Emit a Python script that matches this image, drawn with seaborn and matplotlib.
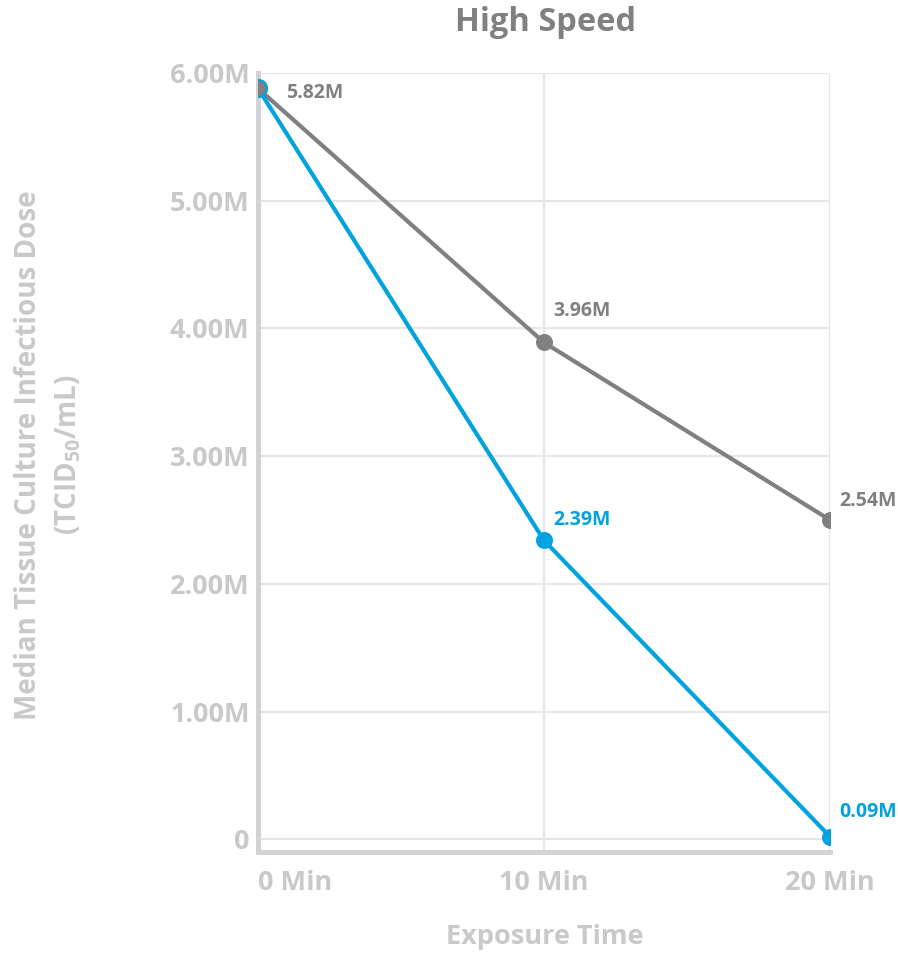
import matplotlib
matplotlib.use("Agg")
import matplotlib.pyplot as plt
import seaborn as sns
import pandas as pd

# ---- data ----
times = [0, 10, 20]
tick_labels = ["0 Min", "10 Min", "20 Min"]
gray_values = [5.88, 3.89, 2.50]
blue_values = [5.88, 2.34, 0.02]
gray_labels = ["5.82M", "3.96M", "2.54M"]
blue_labels = ["", "2.39M", "0.09M"]
y_ticks = [0, 1, 2, 3, 4, 5, 6]
y_tick_labels = ["0", "1.00M", "2.00M", "3.00M", "4.00M", "5.00M", "6.00M"]

GRAY = "#808082"
BLUE = "#00a3e0"
LIGHT = "#c9c9cb"
W = "bold"

sns.set_theme(style="white")
plt.rcParams["font.family"] = ["Open Sans", "DejaVu Sans"]
plt.rcParams["mathtext.default"] = "regular"

df = pd.DataFrame({
    "time": times * 2,
    "value": gray_values + blue_values,
    "series": ["gray"] * 3 + ["blue"] * 3,
})

fig = plt.figure(figsize=(8.98, 9.56), dpi=100)
ax = fig.add_axes([0.2873, 0.1088, 0.6370, 0.8148])

sns.lineplot(data=df, x="time", y="value", hue="series",
             palette={"gray": GRAY, "blue": BLUE}, hue_order=["gray", "blue"],
             linewidth=3, legend=False, ax=ax, zorder=3)
# markers
ax.scatter(times, blue_values, s=150, color=BLUE, zorder=4, linewidths=0)
ax.scatter(times[1:], gray_values[1:], s=150, color=GRAY, zorder=4, linewidths=0)
ax.scatter(times[:1], gray_values[:1], s=150, color=GRAY, edgecolors=BLUE,
           linewidths=1.6, zorder=5)

ax.set_xlabel("")
ax.set_ylabel("")
ax.set_xlim(0, 20)
ax.set_ylim(-0.1, 6.0)
ax.set_xticks(times)
ax.set_xticklabels(tick_labels)
ax.set_yticks(y_ticks)
ax.set_yticklabels(y_tick_labels)
for lbl in ax.get_xticklabels() + ax.get_yticklabels():
    lbl.set_fontweight(W)
    lbl.set_color(LIGHT)
    lbl.set_fontsize(19.5)
ax.get_xticklabels()[0].set_ha("left")
ax.tick_params(axis="both", length=0, pad=6)
ax.tick_params(axis="x", pad=13)

ax.grid(True, color="#e6e6e8", linewidth=1.6)
ax.set_axisbelow(True)
for s in ["top", "right"]:
    ax.spines[s].set_visible(False)
for s in ["left", "bottom"]:
    ax.spines[s].set_color("#d3d3d5")
    ax.spines[s].set_linewidth(3.6)
    ax.spines[s].set_zorder(2)

# data labels
offsets_gray = [(20, -3), (7, 23), (7, 14)]
offsets_blue = [(0, 0), (7, 15), (7, 18)]
for x, y, t, o in zip(times, gray_values, gray_labels, offsets_gray):
    ax.annotate(t, (x, y), xytext=o, textcoords="offset points", color=GRAY,
                fontsize=14, fontweight=W, ha="left", va="center",
                annotation_clip=False)
for x, y, t, o in zip(times, blue_values, blue_labels, offsets_blue):
    if t:
        ax.annotate(t, (x, y), xytext=o, textcoords="offset points", color=BLUE,
                    fontsize=14, fontweight=W, ha="left", va="center",
                    annotation_clip=False)

fig.text(0.607, 0.976, "High Speed", ha="center", va="center", fontsize=23.5,
         fontweight=W, color=GRAY)
fig.text(0.607, 0.020, "Exposure Time", ha="center", va="center", fontsize=19.5,
         fontweight=W, color=LIGHT)
fig.text(0.032, 0.524, "Median Tissue Culture Infectious Dose", rotation=90,
         ha="center", va="center", fontsize=20, fontweight=W, color=LIGHT)
fig.text(0.076, 0.524, "(TCID$\\mathregular{_{50}}$/mL)", rotation=90,
         ha="center", va="center", fontsize=20, fontweight=W, color=LIGHT)

fig.savefig("out.png", dpi=100)
